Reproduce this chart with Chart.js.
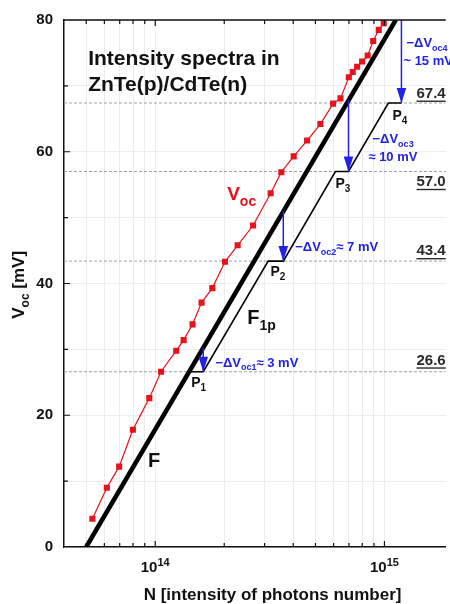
<!DOCTYPE html>
<html>
<head>
  <meta charset="utf-8">
  <title>Voc vs intensity</title>
  <script src="https://cdn.jsdelivr.net/npm/chart.js@4.4.1/dist/chart.umd.min.js"></script>
  <style>
    html, body { margin: 0; padding: 0; background: #fff; }
    #wrap { width: 450px; height: 604px; position: relative; }
  </style>
</head>
<body>
<div id="wrap"><canvas id="chart" width="450" height="604"></canvas></div>
<script>
  // measured Voc points (photons number, mV)
  var vocN = [5.32e13, 6.15e13, 6.96e13, 7.99e13, 9.42e13, 1.06e14, 1.235e14, 1.33e14, 1.455e14, 1.593e14,
              1.774e14, 2.016e14, 2.288e14, 2.672e14, 3.188e14, 3.549e14, 4.018e14, 4.597e14, 5.254e14, 5.97e14,
              6.43e14, 6.99e14, 7.27e14, 7.60e14, 7.99e14, 8.45e14, 8.93e14, 9.44e14, 9.93e14];
  var vocV = [4.3, 9.0, 12.2, 17.8, 22.6, 26.6, 29.8, 31.4, 33.8, 37.1,
              39.3, 43.3, 45.8, 48.8, 53.7, 56.9, 59.3, 61.7, 64.2, 67.3,
              68.1, 71.3, 72.1, 72.9, 73.7, 74.6, 76.8, 78.5, 79.5];

  // ideal line F and stepped line F1p
  var fN = [5.0e13, 1.12e15];
  var fV = [0, 80];
  var f1pN = [1.393e14, 1.62e14, 3.11e14, 3.62e14, 6.11e14, 6.97e14, 1.04e15, 1.186e15];
  var f1pV = [26.6, 26.6, 43.4, 43.4, 57.0, 57.0, 67.4, 67.4];

  // plateau levels and the blue drop arrows
  var levels = [26.6, 43.4, 57.0, 67.4];
  var levelLabels = ['26.6', '43.4', '57.0', '67.4'];
  var levelLabelV = [27.7, 44.3, 54.8, 68.2];
  var arrowN = [1.62e14, 3.62e14, 6.97e14, 1.186e15];
  var arrowFrom = [30.3, 51.0, 67.8, 80];

  var xMin = 4.0e13, xMax = 1.85e15;
  var xTicks = [5e13, 6e13, 7e13, 8e13, 9e13, 1e14, 2e14, 3e14, 4e14, 5e14, 6e14, 7e14, 8e14, 9e14, 1e15];
  var xMajor = [1e14, 1e15];
  var xMajorExp = ['14', '15'];

  var FONT = '"Liberation Sans", Arial, sans-serif';
  var RED = '#e8121c', BLUE = '#2222e6';

  // text notes placed in data coordinates; parts: [text, 0 normal | 1 sub | 2 sup]
  var notes = [
    {n: 5.1e13, v: 73.1, size: 21, color: '#111', parts: [['Intensity spectra in', 0]]},
    {n: 5.1e13, v: 69.2, size: 21, color: '#111', parts: [['ZnTe(p)/CdTe(n)', 0]]},
    {n: 2.06e14, v: 52.6, size: 19, color: RED, parts: [['V', 0], ['oc', 1]]},
    {n: 9.31e13, v: 12.2, size: 20, color: '#111', parts: [['F', 0]]},
    {n: 2.52e14, v: 33.9, size: 20, color: '#111', parts: [['F', 0], ['1p', 1]]},
    {n: 1.436e14, v: 24.3, size: 14, color: '#111', parts: [['P', 0], ['1', 1]]},
    {n: 3.18e14, v: 41.1, size: 14, color: '#111', parts: [['P', 0], ['2', 1]]},
    {n: 6.11e14, v: 54.5, size: 14, color: '#111', parts: [['P', 0], ['3', 1]]},
    {n: 1.083e15, v: 64.8, size: 14, color: '#111', parts: [['P', 0], ['4', 1]]},
    {n: 1.248e15, v: 75.9, size: 13, color: BLUE, parts: [['\u2212\u0394V', 0], ['oc4', 1]]},
    {n: 1.21e15, v: 73.1, size: 13, color: BLUE, parts: [['~ 15 mV', 0]]},
    {n: 8.87e14, v: 61.3, size: 13, color: BLUE, parts: [['\u2212\u0394V', 0], ['oc3', 1]]},
    {n: 8.51e14, v: 58.6, size: 13, color: BLUE, parts: [['\u2248 10 mV', 0]]},
    {n: 4.08e14, v: 44.9, size: 13, color: BLUE, parts: [['\u2212\u0394V', 0], ['oc2', 1], ['\u2248 7 mV', 0]]},
    {n: 1.83e14, v: 27.4, size: 13, color: BLUE, parts: [['\u2212\u0394V', 0], ['oc1', 1], ['\u2248 3 mV', 0]]}
  ];

  function pts(xs, ys) {
    return xs.map(function(x, i) { return {x: x, y: ys[i]}; });
  }

  function subSize(size) { return Math.round(size * 0.72); }

  function richWidth(ctx, parts, size) {
    var w = 0;
    parts.forEach(function(p) {
      ctx.font = 'bold ' + (p[1] ? subSize(size) : size) + 'px ' + FONT;
      w += ctx.measureText(p[0]).width;
    });
    return w;
  }

  function drawRich(ctx, x, y, parts, size, color, align) {
    var w = richWidth(ctx, parts, size);
    if (align === 'center') x -= w / 2;
    if (align === 'right') x -= w;
    ctx.fillStyle = color;
    ctx.textBaseline = 'alphabetic';
    ctx.textAlign = 'left';
    parts.forEach(function(p) {
      var s = p[1] ? subSize(size) : size;
      var dy = p[1] === 1 ? size * 0.3 : (p[1] === 2 ? -size * 0.42 : 0);
      ctx.font = 'bold ' + s + 'px ' + FONT;
      ctx.fillText(p[0], x, y + dy);
      x += ctx.measureText(p[0]).width;
    });
    return w;
  }

  var datasets = [];

  levels.forEach(function(lv) {
    datasets.push({
      data: pts([xMin, xMax], [lv, lv]), showLine: true, borderColor: '#a0a0a0',
      borderWidth: 1, borderDash: [3, 2], pointRadius: 0, order: 10
    });
  });

  datasets.push({
    data: pts(vocN, vocV), showLine: true, borderColor: RED, borderWidth: 1.2,
    pointStyle: 'rect', pointRadius: 4.3, pointBackgroundColor: RED, pointBorderWidth: 0, order: 3
  });
  datasets.push({
    data: pts(fN, fV), showLine: true, borderColor: '#000', borderWidth: 4.5, pointRadius: 0, order: 2
  });
  datasets.push({
    data: pts(f1pN, f1pV), showLine: true, borderColor: '#000', borderWidth: 1.6, pointRadius: 0, order: 2
  });
  arrowN.forEach(function(n, i) {
    datasets.push({
      data: pts([n, n], [arrowFrom[i], levels[i]]), showLine: true, borderColor: BLUE,
      borderWidth: 1.5, pointRadius: 0, order: 1, arrow: true
    });
  });

  var decor = {
    id: 'decor',
    afterDatasetsDraw: function(chart) {
      var ctx = chart.ctx, a = chart.chartArea;
      var xs = chart.scales.x, ys = chart.scales.y;
      ctx.save();

      // arrow heads, tip on the last point
      chart.data.datasets.forEach(function(ds) {
        if (!ds.arrow) return;
        var p = ds.data[ds.data.length - 1];
        var px = xs.getPixelForValue(p.x), py = ys.getPixelForValue(p.y);
        ctx.fillStyle = BLUE;
        ctx.beginPath();
        ctx.moveTo(px, py);
        ctx.lineTo(px - 4.8, py - 15);
        ctx.lineTo(px + 4.8, py - 15);
        ctx.closePath();
        ctx.fill();
      });

      // frame top + inward ticks
      ctx.strokeStyle = '#111';
      ctx.lineWidth = 1.5;
      ctx.beginPath();
      ctx.moveTo(a.left, a.top);
      ctx.lineTo(a.right, a.top);
      ctx.stroke();
      ctx.lineWidth = 1.2;
      ctx.beginPath();
      xTicks.forEach(function(t) {
        var px = xs.getPixelForValue(t);
        var len = xMajor.indexOf(t) >= 0 ? 6 : 4;
        ctx.moveTo(px, a.bottom); ctx.lineTo(px, a.bottom - len);
        ctx.moveTo(px, a.top); ctx.lineTo(px, a.top + len);
      });
      for (var v = 10; v < 80; v += 10) {
        var py = ys.getPixelForValue(v);
        var l = v % 20 === 0 ? 6 : 4;
        ctx.moveTo(a.left, py); ctx.lineTo(a.left + l, py);
      }
      ctx.stroke();

      // plateau values on the right
      levelLabels.forEach(function(t, i) {
        var x = xs.getPixelForValue(1.38e15), y = ys.getPixelForValue(levelLabelV[i]);
        var w = drawRich(ctx, x, y, [[t, 0]], 15, '#2a2a2a', 'left');
        ctx.strokeStyle = '#2a2a2a';
        ctx.lineWidth = 1.4;
        ctx.beginPath();
        ctx.moveTo(x, y + 3.5); ctx.lineTo(x + w, y + 3.5);
        ctx.stroke();
      });

      notes.forEach(function(nt) {
        drawRich(ctx, xs.getPixelForValue(nt.n), ys.getPixelForValue(nt.v), nt.parts, nt.size, nt.color, 'left');
      });

      // x tick labels 10^14, 10^15
      xMajor.forEach(function(t, i) {
        drawRich(ctx, xs.getPixelForValue(t), a.bottom + 25, [['10', 0], [xMajorExp[i], 2]], 15, '#111', 'center');
      });

      // axis titles
      drawRich(ctx, xs.getPixelForValue(3.25e14), a.bottom + 53,
        [['N [intensity of photons number]', 0]], 17, '#111', 'center');
      ctx.translate(a.left - 40, ys.getPixelForValue(39.8));
      ctx.rotate(-Math.PI / 2);
      drawRich(ctx, 0, 0, [['V', 0], ['oc', 1], [' [mV]', 0]], 17, '#111', 'center');
      ctx.restore();
    }
  };

  new Chart(document.getElementById('chart'), {
    type: 'scatter',
    data: {datasets: datasets},
    options: {
      responsive: false,
      animation: false,
      layout: {padding: {top: 16, right: 0, left: 0, bottom: 0}},
      plugins: {legend: {display: false}, tooltip: {enabled: false}},
      scales: {
        x: {
          type: 'logarithmic', min: xMin, max: xMax,
          afterBuildTicks: function(s) {
            s.ticks = xTicks.map(function(v) { return {value: v}; });
          },
          afterFit: function(s) { s.height = 57; },
          ticks: {display: false},
          grid: {color: '#ececec', lineWidth: 1, drawTicks: false, tickLength: 0},
          border: {display: true, color: '#111', width: 1.5}
        },
        y: {
          min: 0, max: 80,
          afterFit: function(s) { s.width = 64; },
          ticks: {
            stepSize: 10, padding: 11, color: '#111',
            font: {family: FONT, size: 15, weight: 'bold'},
            callback: function(v) { return v % 20 === 0 ? v : ''; }
          },
          grid: {color: '#ececec', lineWidth: 1, drawTicks: false, tickLength: 0},
          border: {display: true, color: '#111', width: 1.5}
        }
      }
    },
    plugins: [decor]
  });
</script>
</body>
</html>
